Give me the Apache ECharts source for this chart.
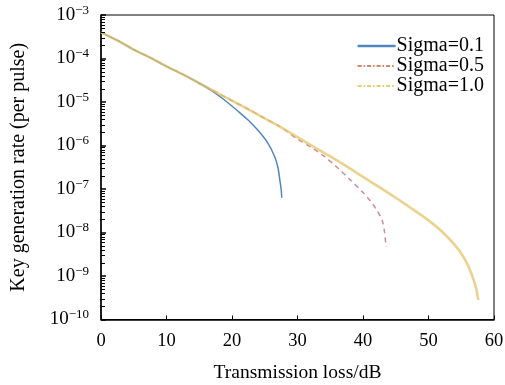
<!DOCTYPE html>
<html>
<head>
<meta charset="utf-8">
<script src="https://cdn.jsdelivr.net/npm/echarts@6/dist/echarts.min.js"></script>
<style>
html,body{margin:0;padding:0;background:#fff;}
#main{width:505px;height:385px;}
</style>
</head>
<body>
<div id="main"></div>
<script>
// ---- data ----
const seriesNames = ['Sigma=0.1', 'Sigma=0.5', 'Sigma=1.0'];
const xTicks = [0, 10, 20, 30, 40, 50, 60];
const yTickExponents = [-10, -9, -8, -7, -6, -5, -4, -3];

// Sigma=1.0 (transmission loss dB, key rate)
const lossS10 = [0, 2.5, 5, 7.5, 10, 12.5, 15, 17.5, 20, 22.5, 25, 27.5, 30, 32.5, 35, 37.5, 40, 42.5, 45, 47.5, 50, 52, 54, 55, 56, 56.8, 57.3, 57.6];
const rateS10 = [4.0e-4, 2.6e-4, 1.6e-4, 1.05e-4, 6.6e-5, 4.3e-5, 2.7e-5, 1.7e-5, 1.07e-5, 6.8e-6, 4.2e-6, 2.6e-6, 1.55e-6, 9.3e-7, 5.6e-7, 3.3e-7, 1.9e-7, 1.1e-7, 6.3e-8, 3.5e-8, 1.9e-8, 1.07e-8, 5.2e-9, 3.3e-9, 1.8e-9, 8.9e-10, 5.0e-10, 2.8e-10];

// Sigma=0.1
const lossS01 = [0, 2.5, 5, 7.5, 10, 12.5, 15, 17, 19, 21, 22.5, 24, 25.5, 26.5, 27, 27.3, 27.5, 27.6];
const rateS01 = [4.0e-4, 2.6e-4, 1.6e-4, 1.05e-4, 6.6e-5, 4.3e-5, 2.7e-5, 1.78e-5, 1.07e-5, 6.0e-6, 3.8e-6, 2.2e-6, 1.12e-6, 5.6e-7, 3.2e-7, 1.62e-7, 1.0e-7, 6.3e-8];

// Sigma=0.5
const lossS05 = [0, 2.5, 5, 7.5, 10, 12.5, 15, 17.5, 20, 22.5, 25, 27.5, 30, 32, 34, 36, 38, 40, 41, 42, 42.9, 43.3, 43.5];
const rateS05 = [4.0e-4, 2.6e-4, 1.6e-4, 1.05e-4, 6.6e-5, 4.3e-5, 2.7e-5, 1.7e-5, 1.07e-5, 6.8e-6, 4.2e-6, 2.6e-6, 1.41e-6, 9.3e-7, 5.75e-7, 3.2e-7, 1.66e-7, 8.3e-8, 5.6e-8, 3.5e-8, 1.95e-8, 1.0e-8, 4.7e-9];

// ---- build ----
function pairs(xs, ys) { return xs.map((x, i) => [x, ys[i]]); }
// minor tick values (2..9 x 10^e) on the log axis
const minorTickValues = [];
for (let e = -10; e < -3; e++) {
  for (let m = 2; m <= 9; m++) minorTickValues.push([0, m * Math.pow(10, e)]);
}
const FONT = '"Liberation Serif", "Times New Roman", serif';
const supMap = {};
yTickExponents.forEach(e => { supMap[e] = '\u2212' + Math.abs(e); });

const legendLine = [
  {width: 2.5, color: '#4f86bf', type: 'solid'},
  {width: 1.8, color: '#d9826a', type: [4, 2, 1.5, 2]},
  {width: 1.8, color: '#e6cf6a', type: [4, 2, 1.5, 2]}
];

const chart = echarts.init(document.getElementById('main'), null, {renderer: 'canvas'});
chart.setOption({
  animation: false,
  backgroundColor: '#ffffff',
  grid: {left: 101, right: 11, top: 15, bottom: 65.5, show: true, borderColor: '#000', borderWidth: 1,
    containLabel: false, outerBoundsMode: 'none'},
  legend: {
    orient: 'vertical', right: 16, top: 31, itemWidth: 38, itemHeight: 12, itemGap: 0,
    itemStyle: {opacity: 0},
    textStyle: {fontFamily: FONT, fontSize: 20, lineHeight: 17, color: '#000', padding: [0, 0, 0, -4]},
    data: seriesNames.map((n, i) => ({name: n, lineStyle: legendLine[i]}))
  },
  xAxis: {
    type: 'value', min: 0, max: 60, interval: 10,
    name: 'Transmission loss/dB', nameLocation: 'middle', nameGap: 43,
    nameTextStyle: {fontFamily: FONT, fontSize: 19.5, color: '#000'},
    axisLine: {lineStyle: {color: '#000', width: 1.5}},
    axisTick: {inside: true, length: 4, lineStyle: {color: '#000', width: 1}},
    axisLabel: {fontFamily: FONT, fontSize: 18.5, color: '#000', margin: 12,
      formatter: v => xTicks.indexOf(v) >= 0 ? String(v) : ''},
    splitLine: {show: false}
  },
  yAxis: {
    type: 'log', logBase: 10, min: 1e-10, max: 1e-3,
    name: 'Key generation rate (per pulse)', nameLocation: 'middle', nameGap: 72,
    nameTextStyle: {fontFamily: FONT, fontSize: 20, color: '#000'},
    axisLine: {lineStyle: {color: '#000', width: 1.5}},
    axisTick: {inside: true, length: 5, lineStyle: {color: '#000', width: 1.5}},
    axisLabel: {
      margin: 12,
      formatter: function (v) {
        const e = Math.round(Math.log10(v));
        return '{b|10}{s|' + (supMap[e] || e) + '}';
      },
      rich: {
        b: {fontFamily: FONT, fontSize: 19, color: '#000'},
        s: {fontFamily: FONT, fontSize: 13, color: '#000', verticalAlign: 'top', padding: [0, 0, 9, 0]}
      }
    },
    splitLine: {show: false}
  },
  series: [
    {name: seriesNames[0], type: 'line', symbol: 'none', smooth: 0.3, data: pairs(lossS01, rateS01),
      lineStyle: {color: '#5286bd', width: 1.5}, itemStyle: {color: '#4f86bf'}, z: 2},
    {name: seriesNames[1], type: 'line', symbol: 'none', smooth: 0.3, data: pairs(lossS05, rateS05),
      lineStyle: {color: 'rgba(195,120,135,0.85)', width: 1.5, type: [5, 4]}, itemStyle: {color: '#d9826a'}, z: 1},
    {name: seriesNames[2], type: 'line', symbol: 'none', smooth: 0.3, data: pairs(lossS10, rateS10),
      lineStyle: {color: 'rgba(228,196,105,0.75)', width: 2.6}, itemStyle: {color: '#e8cf6a'}, z: 3},
    {name: 'minorTicks', type: 'custom', silent: true, clip: false, z: 5, data: minorTickValues,
      renderItem: function (params, api) {
        const p = api.coord([api.value(0), api.value(1)]);
        const y = Math.round(p[1]) + 0.5;
        return {type: 'line', shape: {x1: p[0], y1: y, x2: p[0] + 4, y2: y},
          style: {stroke: '#000', lineWidth: 1}};
      }}
  ]
});
</script>
</body>
</html>
